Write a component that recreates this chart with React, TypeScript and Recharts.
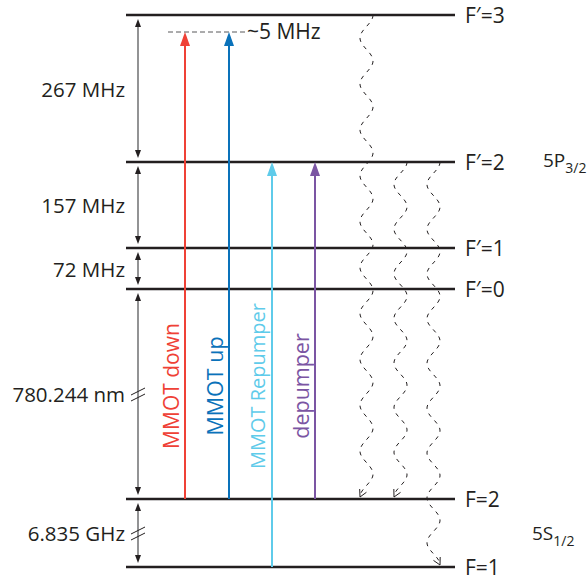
import { ComposedChart, XAxis, YAxis, ReferenceLine, ReferenceDot } from "recharts";

// schematic units: 1 unit = 10 px, not to scale (the big gaps are broken)
const levelNames = ["F=1", "F=2", "F′=0", "F′=1", "F′=2", "F′=3"];
const levelHeights = [1.4, 8.2, 29.2, 33.3, 41.9, 56.6];

const gapLabels = ["6.835 GHz", "780.244 nm", "72 MHz", "157 MHz", "267 MHz"];
const gapBroken = [true, true, false, false, false];

const manifoldNames = ["5S", "5P"];
const manifoldSubs = ["1/2", "3/2"];
const manifoldHeights = [4.1, 41.4];

const detuningLabel = "~5 MHz";
const detunedLevel = 54.9;

const laserNames = ["MMOT down", "MMOT up", "MMOT Repumper", "depumper"];
const laserColors = ["#ef4136", "#0a72ba", "#5fcbea", "#7b55a3"];
const laserX = [18.5, 22.9, 27.2, 31.5];
const laserFrom = [1, 1, 0, 1];
const laserTo = [detunedLevel, detunedLevel, levelHeights[4], levelHeights[4]];

const decayX = [36.65, 40.05, 43.35];
const decayFrom = [5, 4, 4];
const decayTo = [1, 1, 0];
const decayHalfWaves = [21, 15, 18];

const INK = "#231f20";
const GREY = "#58595b";
const FONT = "'Open Sans', sans-serif";
const LINE_START = 12.6;
const LINE_END = 45.5;
const GAP_X = 13.8;
const laserFontSizes = [21, 21.5, 20, 21.5];

function head(x: number, y: number, dx: number, dy: number, len: number, half: number, fill: string) {
  const bx = x - dx * len;
  const by = y - dy * len;
  const px = -dy * half;
  const py = dx * half;
  return <polygon points={`${x},${y} ${bx + px},${by + py} ${bx - px},${by - py}`} fill={fill} />;
}

function GapArrow(p: any, broken: boolean) {
  const x = p.x1;
  const bot = Math.max(p.y1, p.y2) - 4;
  const top = Math.min(p.y1, p.y2) + 4;
  const mid = (bot + top) / 2;
  return (
    <g>
      <line x1={x} x2={x} y1={top + 6} y2={bot - 6} stroke={GREY} strokeWidth={1.3} />
      {head(x, bot, 0, 1, 8, 3, INK)}
      {head(x, top, 0, -1, 8, 3, INK)}
      {broken && (
        <g stroke={INK} strokeWidth={1}>
          <line x1={x - 7} y1={mid + 1} x2={x + 7} y2={mid - 6} />
          <line x1={x - 7} y1={mid + 7} x2={x + 7} y2={mid} />
        </g>
      )}
    </g>
  );
}

function LaserArrow(p: any, color: string) {
  const x = p.x1;
  const bot = Math.max(p.y1, p.y2);
  const top = Math.min(p.y1, p.y2);
  return (
    <g>
      <line x1={x} x2={x} y1={bot} y2={top + 10} stroke={color} strokeWidth={2} />
      {head(x, top, 0, -1, 14, 5, color)}
    </g>
  );
}

function Decay(p: any, halfWaves: number) {
  const cx = p.x1;
  const yTop = Math.min(p.y1, p.y2);
  const yBot = Math.max(p.y1, p.y2) - 2;
  const amp = 6.5;
  const L = yBot - yTop;
  const P = (2 * L) / halfWaves;
  const xs = (s: number) => cx + amp * Math.cos((2 * Math.PI * s) / P);
  let d = "";
  for (let s = 0; s <= L; s += 1) d += `${s === 0 ? "M" : "L"}${xs(s).toFixed(2)},${(yTop + s).toFixed(2)}`;
  const ex = xs(L);
  const px = xs(L - 9);
  let dx = ex - px;
  let dy = 9;
  const n = Math.hypot(dx, dy);
  dx /= n;
  dy /= n;
  const a = (28 * Math.PI) / 180;
  const len = 8;
  const rot = (ang: number) => [
    ex - len * (dx * Math.cos(ang) - dy * Math.sin(ang)),
    yBot - len * (dx * Math.sin(ang) + dy * Math.cos(ang)),
  ];
  const [l1x, l1y] = rot(a);
  const [l2x, l2y] = rot(-a);
  return (
    <g fill="none" stroke={INK} strokeWidth={1}>
      <path d={d} strokeDasharray="4 5" />
      <path d={`M${l1x},${l1y}L${ex},${yBot}L${l2x},${l2y}`} />
    </g>
  );
}

export default function App() {
  return (
    <div style={{ position: "absolute", left: 0, top: 0, width: 588, height: 581, background: "#fff" }}>
      <ComposedChart width={588} height={581} margin={{ top: 0, right: 0, bottom: 0, left: 0 }}>
        <XAxis type="number" dataKey="x" domain={[0, 58.8]} hide height={0} allowDataOverflow />
        <YAxis type="number" dataKey="y" domain={[0, 58.1]} hide width={0} allowDataOverflow />

        {levelHeights.map((h, i) => (
          <ReferenceLine
            key={"lv" + i}
            segment={[{ x: LINE_START, y: h }, { x: LINE_END, y: h }]}
            stroke={INK}
            strokeWidth={2.5}
          />
        ))}
        {levelHeights.map((h, i) => (
          <ReferenceDot
            key={"lvl" + i}
            x={LINE_END}
            y={h}
            r={0}
            shape={(p: any) => (
              <text x={p.cx + 10} y={p.cy} dominantBaseline="central" fontFamily={FONT} fontSize={21} fill={INK}>
                {levelNames[i]}
              </text>
            )}
          />
        ))}

        {gapLabels.map((lab, i) => (
          <ReferenceLine
            key={"gap" + i}
            segment={[{ x: GAP_X, y: levelHeights[i] }, { x: GAP_X, y: levelHeights[i + 1] }]}
            shape={(p: any) => GapArrow(p, gapBroken[i])}
          />
        ))}
        {gapLabels.map((lab, i) => (
          <ReferenceDot
            key={"gapl" + i}
            x={LINE_START}
            y={(levelHeights[i] + levelHeights[i + 1]) / 2}
            r={0}
            shape={(p: any) => (
              <text x={p.cx - 1} y={p.cy} textAnchor="end" dominantBaseline="central" fontFamily={FONT} fontSize={20.5} fill={INK}>
                {lab}
              </text>
            )}
          />
        ))}

        {manifoldNames.map((m, i) => (
          <ReferenceDot
            key={"mf" + i}
            x={LINE_END + 7.7 + i * 1.1}
            y={manifoldHeights[i]}
            r={0}
            shape={(p: any) => (
              <text x={p.cx} y={p.cy} fontFamily={FONT} fontSize={19} fill={INK}>
                {m}
                <tspan dy={6} fontSize={14}>
                  {manifoldSubs[i]}
                </tspan>
              </text>
            )}
          />
        ))}

        <ReferenceLine
          segment={[{ x: 16.8, y: detunedLevel }, { x: 24.5, y: detunedLevel }]}
          stroke={GREY}
          strokeWidth={1}
          strokeDasharray="5 3"
        />
        <ReferenceDot
          x={24.5}
          y={detunedLevel}
          r={0}
          shape={(p: any) => (
            <text x={p.cx + 2} y={p.cy - 1} dominantBaseline="central" fontFamily={FONT} fontSize={21} fill={INK}>
              {detuningLabel}
            </text>
          )}
        />

        {laserNames.map((name, i) => (
          <ReferenceLine
            key={"ls" + i}
            segment={[{ x: laserX[i], y: levelHeights[laserFrom[i]] }, { x: laserX[i], y: laserTo[i] }]}
            shape={(p: any) => LaserArrow(p, laserColors[i])}
          />
        ))}
        {laserNames.map((name, i) => (
          <ReferenceDot
            key={"lsl" + i}
            x={laserX[i] - 1.45}
            y={19.5}
            r={0}
            shape={(p: any) => (
              <text
                x={p.cx}
                y={p.cy}
                transform={`rotate(-90 ${p.cx} ${p.cy})`}
                textAnchor="middle"
                dominantBaseline="central"
                fontFamily={FONT}
                fontSize={laserFontSizes[i]}
                fill={laserColors[i]}
              >
                {name}
              </text>
            )}
          />
        ))}

        {decayX.map((x, i) => (
          <ReferenceLine
            key={"dc" + i}
            segment={[{ x, y: levelHeights[decayFrom[i]] }, { x, y: levelHeights[decayTo[i]] }]}
            shape={(p: any) => Decay(p, decayHalfWaves[i])}
          />
        ))}
      </ComposedChart>
    </div>
  );
}
